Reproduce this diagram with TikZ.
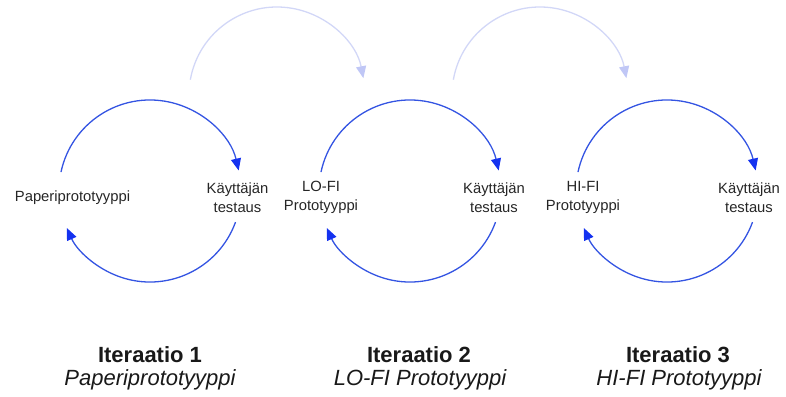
\documentclass[tikz,border=0pt]{standalone}
\usepackage{fontspec}
\setmainfont{Liberation Sans}
\usetikzlibrary{arrows.meta,calc}
\definecolor{cyc}{RGB}{52,84,226}
\definecolor{cychead}{RGB}{20,50,240}
\definecolor{lite}{RGB}{210,215,247}
\definecolor{litehead}{RGB}{192,199,246}
\begin{document}
\begin{tikzpicture}[x=1pt,y=1pt,
  cycarrow/.style={draw=cyc,line width=1.3pt,-{Triangle[length=12pt,width=10pt,fill=cychead,color=cychead]}},
  litearrow/.style={draw=lite,line width=1.3pt,-{Triangle[length=12pt,width=10pt,fill=litehead,color=litehead]}},
  lbl/.style={font=\fontsize{14.8}{18.5}\selectfont,align=center,inner sep=0pt,text=black!85},
  ttl/.style={font=\fontsize{22}{23}\selectfont\bfseries,anchor=base,inner sep=0pt,text=black!90},
  sub/.style={font=\fontsize{22}{23}\selectfont\itshape,anchor=base,inner sep=0pt,text=black!90}]
\useasboundingbox (0,0) rectangle (786,396);
% cycle centres
\coordinate (c1) at (150,205);
\coordinate (c2) at (410,205);
\coordinate (c3) at (667,205);
\coordinate (l1) at (277,301);
\coordinate (l2) at (540,301);
% labels
\node[lbl] (p1l) at (72.5,198) {Paperiprototyyppi};
\node[lbl] (p1r) at (237.5,198.5) {Käyttäjän\\testaus};
\node[lbl] (p2l) at (321,198.5) {LO-FI\\Prototyyppi};
\node[lbl] (p2r) at (494,198.5) {Käyttäjän\\testaus};
\node[lbl] (p3l) at (583,198.5) {HI-FI\\Prototyyppi};
\node[lbl] (p3r) at (749,198.5) {Käyttäjän\\testaus};
% titles
\node[ttl] (t1) at (150,34) {Iteraatio 1};
\node[sub] (s1) at (150,11) {Paperiprototyyppi};
\node[ttl] (t2) at (419,34) {Iteraatio 2};
\node[sub] (s2) at (420,11) {LO-FI Prototyyppi};
\node[ttl] (t3) at (678,34) {Iteraatio 3};
\node[sub] (s3) at (679,11) {HI-FI Prototyyppi};
% cycle arcs
\foreach \c in {c1,c2,c3}{
  \coordinate (\c ts) at ($(\c)+(168:91)$);
  \coordinate (\c bs) at ($(\c)+(-20:91)$);
  \draw[cycarrow] (\c ts) arc[start angle=168,end angle=13,radius=91];
  \draw[cycarrow] (\c bs) arc[start angle=-20,end angle=-156,radius=91];
}
% light arcs between iterations
\foreach \c in {l1,l2}{
  \coordinate (\c s) at ($(\c)+(170:88)$);
  \draw[litearrow] (\c s) arc[start angle=170,end angle=11,radius=88];
}
\end{tikzpicture}
\end{document}
